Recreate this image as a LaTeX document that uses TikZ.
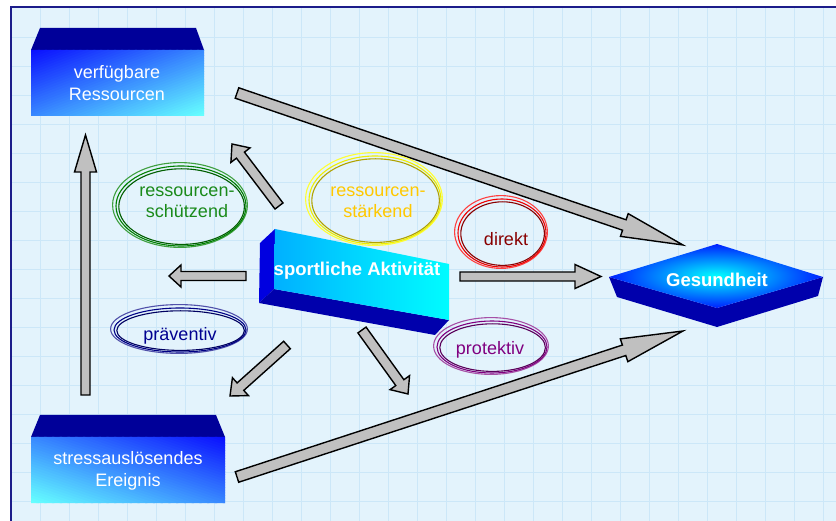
\documentclass[tikz,border=0pt]{standalone}
\usepackage{fontspec}
\setmainfont{Liberation Sans}
\usetikzlibrary{calc}
\definecolor{bg}{HTML}{E3F3FC}
\definecolor{gridc}{HTML}{CCE7F8}
\definecolor{framec}{HTML}{1C1C8A}
\definecolor{navytop}{HTML}{000099}
\definecolor{boxblue}{HTML}{0A10FF}
\definecolor{boxcyan}{HTML}{66FFFF}
\definecolor{arrgray}{HTML}{C0C0C0}
\definecolor{sideblue}{HTML}{0000AC}
\definecolor{leftblue}{HTML}{0000E0}
\definecolor{frontblue}{HTML}{00B0FF}
\definecolor{frontmid}{HTML}{00D8FF}
\definecolor{frontcyan}{HTML}{00FCFF}
\definecolor{diaminner}{HTML}{00FFFF}
\definecolor{diamouter}{HTML}{0020FF}
\definecolor{gdark}{HTML}{005E00}
\definecolor{gmid}{HTML}{008000}
\definecolor{glight}{HTML}{3FA03F}
\definecolor{gtext}{HTML}{1A8A1A}
\definecolor{ydark}{HTML}{B0A200}
\definecolor{ymid}{HTML}{EEEE00}
\definecolor{ylight}{HTML}{FFFF33}
\definecolor{ytext}{HTML}{FFC800}
\definecolor{rdark}{HTML}{8A0000}
\definecolor{rmid}{HTML}{EE0000}
\definecolor{rlight}{HTML}{FF4040}
\definecolor{rtext}{HTML}{880000}
\definecolor{ndark}{HTML}{000060}
\definecolor{nmid}{HTML}{000085}
\definecolor{nlight}{HTML}{5050AA}
\definecolor{ntext}{HTML}{000090}
\definecolor{pdark}{HTML}{5A005A}
\definecolor{pmid}{HTML}{800080}
\definecolor{plight}{HTML}{A650A6}
\definecolor{ptext}{HTML}{800080}
\tikzset{
  arr/.style={fill=arrgray, draw=black, line width=1.4pt, line join=miter},
  boxtxt/.style={text=white, font=\fontsize{18}{22}\selectfont, align=center, inner sep=0pt},
  boldtxt/.style={text=white, font=\bfseries\fontsize{18.5}{22}\selectfont, align=center, inner sep=0pt},
  elltxt/.style={font=\fontsize{18}{21}\selectfont, align=center, inner sep=0pt},
  ell/.style={line width=1.1pt},
}
\newcommand\barrow[5]{%
  \coordinate (hb) at ($(#2)!#5pt!(#1)$);
  \draw[arr] ($(#1)!#3pt!90:(#2)$) -- ($(hb)!#3pt!90:(#2)$) -- ($(hb)!#4pt!90:(#2)$)
    -- (#2) -- ($(hb)!#4pt!-90:(#2)$) -- ($(hb)!#3pt!-90:(#2)$) -- ($(#1)!#3pt!-90:(#2)$) -- cycle;}
% center, rx, ry, dark, mid, light
\newcommand\tripleell[6]{%
  \draw[ell,#6] ($(#1)+(-1.0,-1.0)$) ellipse [x radius=#2+2.4, y radius=#3+2.4];
  \draw[ell,#5] (#1) ellipse [x radius=#2, y radius=#3];
  \draw[ell,#4] ($(#1)+(0.6,0.6)$) ellipse [x radius=#2-2.2, y radius=#3-2.2];}
% diagonal gradient in a unit square (blue at (0,0), cyan at (1,1))
\newcommand\diaggrad{%
  \clip (0,0) rectangle (1,1);
  \foreach \i in {0,...,49}{%
    \pgfmathsetmacro\ca{\i/25}%
    \pgfmathsetmacro\cb{(\i+1.3)/25}%
    \pgfmathsetmacro\pc{\i*100/49}%
    \fill[boxcyan!\pc!boxblue] (\ca,0) -- (\cb,0) -- (\cb-1,1) -- (\ca-1,1) -- cycle;
  }}
\begin{document}
\begin{tikzpicture}[x=1pt,y=-1pt]
\useasboundingbox (0,0) rectangle (836,521);
\fill[white] (0,0) rectangle (836,521);
\fill[bg] (10,7.5) rectangle (836,521);
\foreach \gx in {40,69,...,836} \draw[gridc, line width=0.8pt] (\gx,8) -- (\gx,521);
\foreach \gy in {37,66,...,521} \draw[gridc, line width=0.8pt] (11,\gy) -- (836,\gy);
\draw[framec, line width=2pt] (10.5,530) -- (10.5,7.5) -- (840,7.5);

% arrows
\coordinate (a1s) at (85.5,395); \coordinate (a1e) at (85.5,135);
\coordinate (a2s) at (237,93);   \coordinate (a2e) at (683,245);
\coordinate (a3s) at (237,477);  \coordinate (a3e) at (683,331);
\coordinate (a4s) at (460,276.5);\coordinate (a4e) at (601,276.5);
\coordinate (a5s) at (246,276);  \coordinate (a5e) at (169,276);
\coordinate (a6s) at (279,206);  \coordinate (a6e) at (232,144);
\coordinate (a7s) at (287,345);  \coordinate (a7e) at (230,396);
\coordinate (a8s) at (362,330);  \coordinate (a8e) at (408,394);
\barrow{a1s}{a1e}{4.5}{11}{37}
\barrow{a2s}{a2e}{5.5}{12}{62}
\barrow{a3s}{a3e}{5.5}{12}{62}
\barrow{a4s}{a4e}{4.5}{12}{26}
\barrow{a5s}{a5e}{4.5}{11}{12}
\barrow{a6s}{a6e}{5}{12}{14}
\barrow{a7s}{a7e}{5}{12}{14}
\barrow{a8s}{a8e}{5}{12}{14}

% ellipses
\coordinate (e1) at (181,206); \tripleell{e1}{65}{40}{gdark}{gmid}{glight}
\node[elltxt, text=gtext] (schuetz) at (187,202) {ressourcen-\\schützend};
\coordinate (e2) at (375,200); \tripleell{e2}{66}{44}{ydark}{ymid}{ylight}
\node[elltxt, text=ytext] (staerk) at (378,202) {ressourcen-\\stärkend};
\coordinate (e3) at (502,233); \tripleell{e3}{44}{34}{rdark}{rmid}{rlight}
\node[elltxt, text=rtext] (direkt) at (506,239) {direkt};
\coordinate (e4) at (180,330); \tripleell{e4}{66}{22}{ndark}{nmid}{nlight}
\node[elltxt, text=ntext] (praev) at (180,336) {präventiv};
\coordinate (e5) at (492,347); \tripleell{e5}{55}{26}{pdark}{pmid}{plight}
\node[elltxt, text=ptext] (prot) at (490,350) {protektiv};

% box verfuegbare Ressourcen
\fill[navytop] (40,28) -- (196,28) -- (204,50) -- (31,50) -- cycle;
\begin{scope}[shift={(31,50)}, xscale=173, yscale=66]
  \diaggrad
\end{scope}
\node[boxtxt] (ress) at (117,83) {verfügbare\\Ressourcen};

% box stressausloesendes Ereignis
\fill[navytop] (40,415) -- (216,415) -- (225,437) -- (31,437) -- cycle;
\begin{scope}[shift={(225,437)}, xscale=-194, yscale=66]
  \diaggrad
\end{scope}
\node[boxtxt] (stress) at (128,471) {stressauslösendes\\Ereignis};

% sportliche Aktivitaet block
\fill[leftblue] (275,229) -- (260,243) -- (259,303) -- (274,289) -- cycle;
\fill[sideblue] (274,289) -- (259,303) -- (435,335) -- (449,320) -- cycle;
\shade[left color=frontblue, right color=frontcyan, middle color=frontmid] (275,229) -- (449,264) -- (449,320) -- (274,289) -- cycle;
\node[boldtxt] (sport) at (357,271) {sportliche Aktivität};

% Gesundheit
\fill[sideblue] (609,277) -- (617,297) -- (717,327) -- (818,296) -- (823,277) -- (717,308) -- cycle;
\shade[inner color=diaminner, outer color=diamouter] (609,277) -- (717,244) -- (823,277) -- (717,308) -- cycle;
\node[boldtxt] (ges) at (717,280) {Gesundheit};
\end{tikzpicture}
\end{document}
